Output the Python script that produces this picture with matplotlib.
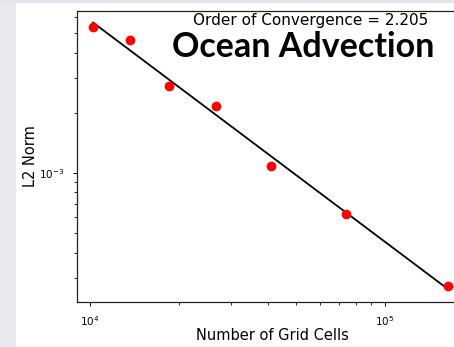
import numpy as np
import matplotlib.pyplot as plt
from matplotlib.patches import Rectangle

# Grid sizes and L2 error norms
cells = [10242, 13700, 18500, 26700, 40962, 73800, 163842]
l2_norm = [5.39e-3, 4.61e-3, 2.71e-3, 2.16e-3, 1.09e-3, 6.24e-4, 2.72e-4]
order_text = "Order of Convergence = 2.205"
title_text = "Ocean Advection"

W, H = 454, 347
fig = plt.figure(figsize=(W / 100, H / 100), dpi=100)
fig.patch.set_facecolor("white")

# gray screenshot border on the left and top
fig.patches.append(Rectangle((0, 0), 16 / W, 1, transform=fig.transFigure,
                             facecolor="#e8e9ef", edgecolor="none", zorder=0))
fig.patches.append(Rectangle((0, 1 - 3 / H), 1, 3 / H, transform=fig.transFigure,
                             facecolor="#e3e5ec", edgecolor="none", zorder=0))

# axes runs past the right edge (cropped in the original)
ax = fig.add_axes([77 / W, 1 - 302 / H, (468 - 77) / W, (302 - 11) / H])
ax.set_xscale("log")
ax.set_yscale("log")

# least squares fit in log-log space
slope, intercept = np.polyfit(np.log10(cells), np.log10(l2_norm), 1)
fit_x = np.array([cells[0], cells[-1]])
fit_y = 10 ** (slope * np.log10(fit_x) + intercept)
ax.plot(fit_x, fit_y, color="black", lw=1.3, zorder=2)
ax.plot(cells, l2_norm, "o", color="red", ms=6, zorder=3, clip_on=False)

ax.set_xlim(9034, 191200)
ax.set_ylim(2.265e-4, 6.46e-3)

for s in ax.spines.values():
    s.set_linewidth(0.9)
    s.set_color("#222222")
ax.tick_params(which="major", length=3, width=0.7, labelsize=7.5, pad=6)
ax.tick_params(which="minor", length=2, width=0.6)

ax.set_xlabel("Number of Grid Cells", fontsize=10.5)
ax.xaxis.set_label_coords(0.5, -0.089)
ax.set_ylabel("L2 Norm", fontsize=10.5)
ax.yaxis.set_label_coords(-0.1, 0.5)

fig.text(311 / W, 1 - 20 / H, order_text, ha="center", va="center", fontsize=11)
fig.text(303 / W, 1 - 47 / H, title_text, ha="center", va="center",
         fontsize=24.5, fontweight="bold", family="Lato")

fig.savefig("out.png", dpi=100)
